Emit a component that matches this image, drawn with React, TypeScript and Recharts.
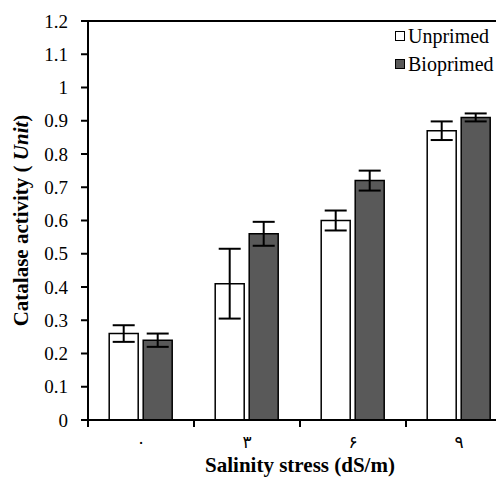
import { BarChart, Bar, XAxis, YAxis, ErrorBar, ReferenceLine, Label } from 'recharts'

const categories = ['۰', '۳', '۶', '۹']
const unprimed = [0.26, 0.41, 0.6, 0.87]
const unprimedErr = [0.025, 0.105, 0.03, 0.028]
const bioprimed = [0.24, 0.56, 0.72, 0.91]
const bioprimedErr = [0.02, 0.036, 0.03, 0.012]
const yTicks = [0, 0.1, 0.2, 0.3, 0.4, 0.5, 0.6, 0.7, 0.8, 0.9, 1, 1.1, 1.2]
const legendItems = [
  { label: 'Unprimed', fill: '#fff' },
  { label: 'Bioprimed', fill: '#595959' },
]

const GRAY = '#595959'
const SERIF = '"Liberation Serif", "Times New Roman", serif'
const BAND = 106

const data = categories.map((name, i) => ({
  name,
  unprimed: unprimed[i],
  unprimedErr: unprimedErr[i],
  bioprimed: bioprimed[i],
  bioprimedErr: bioprimedErr[i],
}))

function CategoryTick(props: any) {
  const { x, y, payload } = props
  return (
    <g>
      <line x1={x - BAND / 2} x2={x - BAND / 2} y1={y - 8} y2={y - 1} stroke="#000" strokeWidth={2} />
      <text x={x} y={y + 20} textAnchor="middle" fontSize={17} fontFamily='"DejaVu Sans", sans-serif' fill="#000">
        {payload.value}
      </text>
    </g>
  )
}

function LegendBox() {
  return (
    <div
      style={{
        position: 'absolute',
        left: 387,
        top: 14,
        fontFamily: SERIF,
        fontSize: 20,
        color: '#000',
        lineHeight: '28px',
      }}
    >
      {legendItems.map((it) => (
        <div key={it.label} style={{ display: 'flex', alignItems: 'center', height: 28 }}>
          <span
            style={{
              display: 'inline-block',
              width: 8,
              height: 8,
              border: '1.5px solid #000',
              background: it.fill,
              marginRight: 3,
            }}
          />
          {it.label}
        </div>
      ))}
    </div>
  )
}

export default function App() {
  return (
    <div style={{ width: 496, height: 470, overflow: 'hidden', position: 'relative' }}>
      <BarChart
        width={520}
        height={470}
        data={data}
        margin={{ top: 13, right: 16, bottom: 0, left: 0 }}
        barCategoryGap="20%"
        barGap={5}
      >
        <XAxis
          dataKey="name"
          height={58}
          axisLine={{ stroke: '#000', strokeWidth: 2 }}
          tickLine={false}
          tick={<CategoryTick />}
          interval={0}
        >
          <Label
            value="Salinity stress (dS/m)"
            position="insideBottom"
            offset={6}
            style={{ fontFamily: SERIF, fontSize: 21, fontWeight: 'bold', fill: '#000' }}
          />
        </XAxis>
        <YAxis
          width={80}
          domain={[0, 1.2]}
          ticks={yTicks}
          interval={0}
          axisLine={{ stroke: '#000', strokeWidth: 2 }}
          tickLine={{ stroke: '#000', strokeWidth: 2 }}
          tickSize={7}
          tickMargin={13}
          tick={{ fontFamily: SERIF, fontSize: 19, fill: '#000' }}
          tickFormatter={(v: number) => String(Math.round(v * 10) / 10)}
        >
          <Label
            content={(p: any) => {
              const vb = p.viewBox
              const cx = 13
              const cy = vb.y + vb.height / 2
              return (
                <text
                  x={cx}
                  y={cy}
                  transform={`rotate(-90 ${cx} ${cy})`}
                  textAnchor="middle"
                  dominantBaseline="central"
                  fontFamily={SERIF}
                  fontSize={21}
                  fontWeight="bold"
                  fill="#000"
                >
                  Catalase activity ( <tspan fontStyle="italic">Unit</tspan>)
                </text>
              )
            }}
          />
        </YAxis>
        <ReferenceLine y={1.2} stroke="#000" strokeWidth={2} />
        <Bar dataKey="unprimed" name="Unprimed" fill="#fff" stroke="#000" strokeWidth={1.5} isAnimationActive={false}>
          <ErrorBar dataKey="unprimedErr" width={11} stroke="#000" strokeWidth={2} />
        </Bar>
        <Bar dataKey="bioprimed" name="Bioprimed" fill={GRAY} stroke="#000" strokeWidth={1.5} isAnimationActive={false}>
          <ErrorBar dataKey="bioprimedErr" width={11} stroke="#000" strokeWidth={2} />
        </Bar>
      </BarChart>
      <LegendBox />
    </div>
  )
}
